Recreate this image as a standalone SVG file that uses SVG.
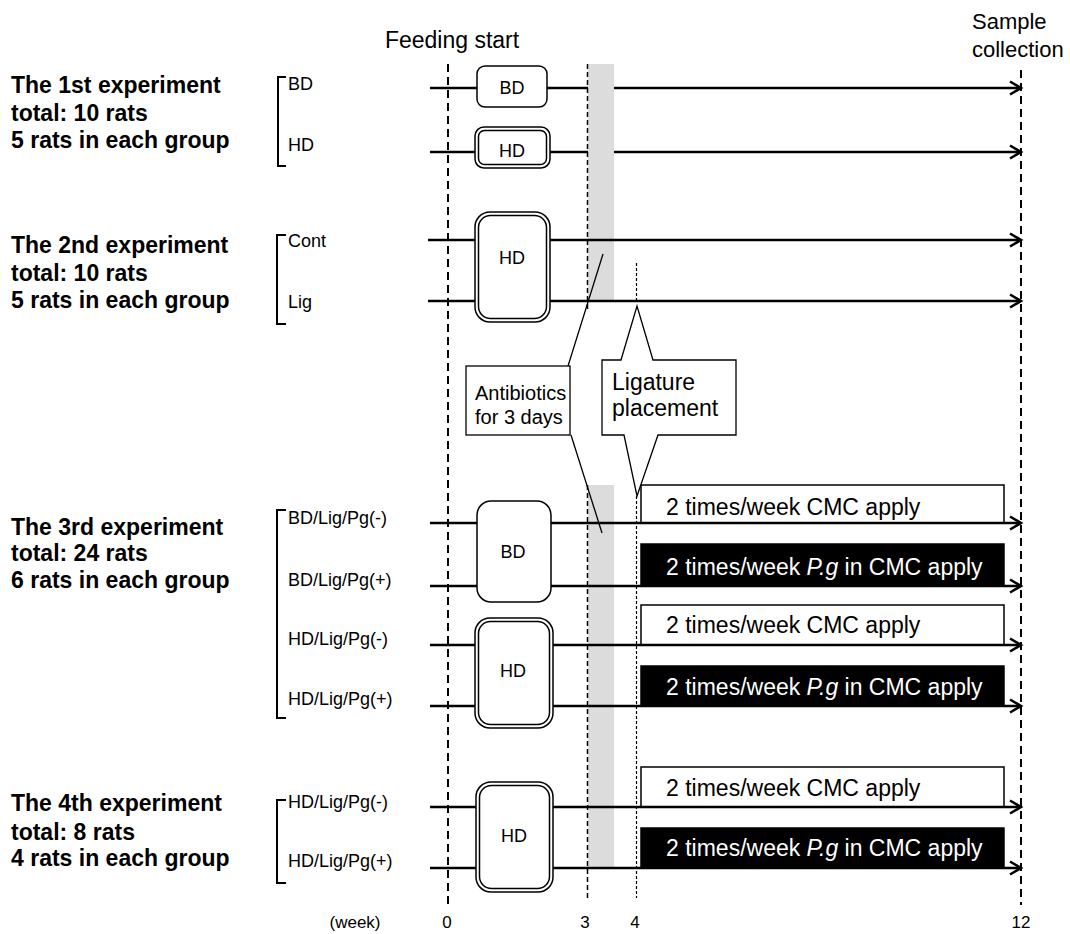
<svg xmlns="http://www.w3.org/2000/svg" width="1070" height="934" viewBox="0 0 1070 934">
<style>
text{font-family:"Liberation Sans",Arial,sans-serif;fill:#000}
.h{font-size:23px;font-weight:bold}
.lb{font-size:18px}
.big{font-size:23px}
.wk{font-size:17px;text-anchor:middle}
.ln{stroke:#000;stroke-width:2.5;fill:none}
.bx{fill:#fff;stroke:#000;stroke-width:1.5}
.br{fill:none;stroke:#000;stroke-width:2}
.band{fill:#dcdcdc}
.d0{stroke:#000;stroke-width:2;stroke-dasharray:8 5;fill:none}
.d3{stroke:#000;stroke-width:1.5;stroke-dasharray:5 3;fill:none}
.d4{stroke:#000;stroke-width:1.2;stroke-dasharray:3 2;fill:none}
.cw{fill:#fff;stroke:#000;stroke-width:1.5}
.cb{fill:#000;stroke:#000;stroke-width:1.5}
.wt{fill:#fff}
.co{fill:#fff;stroke:#000;stroke-width:1.3}
.cl{stroke:#000;stroke-width:1.3;fill:none}
</style>
<defs>
<marker id="arr" markerUnits="userSpaceOnUse" markerWidth="16" markerHeight="16" refX="13" refY="8" orient="auto">
<path d="M2,1.5 L13,8 L2,14.5" fill="none" stroke="#000" stroke-width="2.5"/>
</marker>
</defs>

<g id="titles">
<text class="big" x="452" y="48" text-anchor="middle">Feeding start</text>
<text x="972" y="29" font-size="22">Sample</text>
<text x="972" y="57" font-size="22">collection</text>
</g>

<g id="bands">
<rect class="band" x="588" y="64" width="26" height="237"/>
<rect class="band" x="588" y="485" width="26" height="383"/>
</g>

<g id="guides">
<line class="d0" x1="448" y1="64" x2="448" y2="907"/>
<line class="d0" x1="1021" y1="70" x2="1021" y2="905"/>
<line class="d3" x1="587.5" y1="64" x2="587.5" y2="312"/>
<line class="d3" x1="587.5" y1="485" x2="587.5" y2="900"/>
<line class="d4" x1="636.5" y1="263" x2="636.5" y2="302"/>
<line class="d4" x1="636.5" y1="496" x2="636.5" y2="898"/>
</g>

<g id="exp1">
<text class="h" x="11" y="93">The 1st experiment</text>
<text class="h" x="11" y="121">total: 10 rats</text>
<text class="h" x="11" y="148">5 rats in each group</text>
<path class="br" d="M286,77 H278 V166 H286"/>
<text class="lb" x="288" y="90">BD</text>
<text class="lb" x="288" y="151">HD</text>
</g>

<g id="exp2">
<text class="h" x="11" y="253">The 2nd experiment</text>
<text class="h" x="11" y="281">total: 10 rats</text>
<text class="h" x="11" y="308">5 rats in each group</text>
<path class="br" d="M286,235 H277 V324 H286"/>
<text class="lb" x="288" y="247">Cont</text>
<text class="lb" x="288" y="308">Lig</text>
</g>

<g id="exp3">
<text class="h" x="11" y="535">The 3rd experiment</text>
<text class="h" x="11" y="561">total: 24 rats</text>
<text class="h" x="11" y="588">6 rats in each group</text>
<path class="br" d="M286,510 H277 V718 H286"/>
<text class="lb" x="288" y="524">BD/Lig/Pg(-)</text>
<text class="lb" x="288" y="586">BD/Lig/Pg(+)</text>
<text class="lb" x="288" y="645">HD/Lig/Pg(-)</text>
<text class="lb" x="288" y="705">HD/Lig/Pg(+)</text>
</g>

<g id="exp4">
<text class="h" x="11" y="811">The 4th experiment</text>
<text class="h" x="11" y="840">total: 8 rats</text>
<text class="h" x="11" y="866">4 rats in each group</text>
<path class="br" d="M286,800 H277 V883 H286"/>
<text class="lb" x="288" y="808">HD/Lig/Pg(-)</text>
<text class="lb" x="288" y="867">HD/Lig/Pg(+)</text>
</g>

<g id="treatments">
<rect class="cw" x="641" y="485" width="363" height="38"/>
<text class="big" x="666" y="515">2 times/week CMC apply</text>
<rect class="cb" x="641" y="544" width="363" height="42"/>
<text class="big wt" x="666" y="575">2 times/week <tspan font-style="italic">P.g</tspan> in CMC apply</text>
<rect class="cw" x="641" y="605" width="363" height="40"/>
<text class="big" x="666" y="633">2 times/week CMC apply</text>
<rect class="cb" x="641" y="666" width="363" height="40"/>
<text class="big wt" x="666" y="695">2 times/week <tspan font-style="italic">P.g</tspan> in CMC apply</text>
<rect class="cw" x="641" y="767" width="363" height="40"/>
<text class="big" x="666" y="796">2 times/week CMC apply</text>
<rect class="cb" x="641" y="828" width="363" height="40"/>
<text class="big wt" x="666" y="856">2 times/week <tspan font-style="italic">P.g</tspan> in CMC apply</text>
</g>

<g id="connectors">
<line class="ln" x1="430" y1="88" x2="588" y2="88"/>
<line class="ln" x1="614" y1="88" x2="1021" y2="88" marker-end="url(#arr)"/>
<line class="ln" x1="430" y1="152" x2="588" y2="152"/>
<line class="ln" x1="614" y1="152" x2="1021" y2="152" marker-end="url(#arr)"/>
<line class="ln" x1="428" y1="240" x2="1021" y2="240" marker-end="url(#arr)"/>
<line class="ln" x1="428" y1="301" x2="1021" y2="301" marker-end="url(#arr)"/>
<line class="ln" x1="430" y1="523" x2="1021" y2="523" marker-end="url(#arr)"/>
<line class="ln" x1="430" y1="586" x2="1021" y2="586" marker-end="url(#arr)"/>
<line class="ln" x1="430" y1="645" x2="1021" y2="645" marker-end="url(#arr)"/>
<line class="ln" x1="430" y1="706" x2="1021" y2="706" marker-end="url(#arr)"/>
<line class="ln" x1="430" y1="807" x2="1021" y2="807" marker-end="url(#arr)"/>
<line class="ln" x1="430" y1="868" x2="1021" y2="868" marker-end="url(#arr)"/>
</g>

<g id="box-exp1-bd">
<rect class="bx" x="477" y="66" width="70" height="41" rx="8"/>
<text class="lb" x="512" y="94" text-anchor="middle">BD</text>
</g>
<g id="box-exp1-hd">
<rect class="bx" x="475" y="127" width="75" height="41" rx="9"/>
<rect class="bx" x="478.5" y="130.5" width="68" height="34" rx="6"/>
<text class="lb" x="512" y="157" text-anchor="middle">HD</text>
</g>
<g id="box-exp2-hd">
<rect class="bx" x="475" y="212" width="75" height="110" rx="15"/>
<rect class="bx" x="478.5" y="215.5" width="68" height="103" rx="12"/>
<text class="lb" x="512" y="264" text-anchor="middle">HD</text>
</g>
<g id="box-exp3-bd">
<rect class="bx" x="477" y="501" width="74" height="101" rx="14"/>
<text class="lb" x="513" y="558" text-anchor="middle">BD</text>
</g>
<g id="box-exp3-hd">
<rect class="bx" x="475" y="618" width="78" height="110" rx="15"/>
<rect class="bx" x="478.5" y="621.5" width="71" height="103" rx="12"/>
<text class="lb" x="513" y="677" text-anchor="middle">HD</text>
</g>
<g id="box-exp4-hd">
<rect class="bx" x="476" y="782" width="77" height="110" rx="15"/>
<rect class="bx" x="479.5" y="785.5" width="70" height="103" rx="12"/>
<text class="lb" x="514" y="842" text-anchor="middle">HD</text>
</g>

<g id="callout-antibiotics">
<line class="cl" x1="603" y1="254" x2="568" y2="366"/>
<line class="cl" x1="571" y1="435" x2="602" y2="533"/>
<rect class="co" x="466" y="366" width="104" height="69"/>
<text x="475" y="400" font-size="20">Antibiotics</text>
<text x="475" y="424" font-size="20">for 3 days</text>
</g>

<g id="callout-ligature">
<path class="co" d="M602,360 H621 L637,306 L653,360 H736 V435 H658 L637,496 L624,435 H602 Z"/>
<text class="big" x="612" y="390">Ligature</text>
<text class="big" x="612" y="416">placement</text>
</g>

<g id="axis">
<text class="wk" x="355" y="928">(week)</text>
<text class="wk" x="447" y="928">0</text>
<text class="wk" x="585" y="928">3</text>
<text class="wk" x="635" y="928">4</text>
<text class="wk" x="1021" y="928">12</text>
</g>
</svg>
